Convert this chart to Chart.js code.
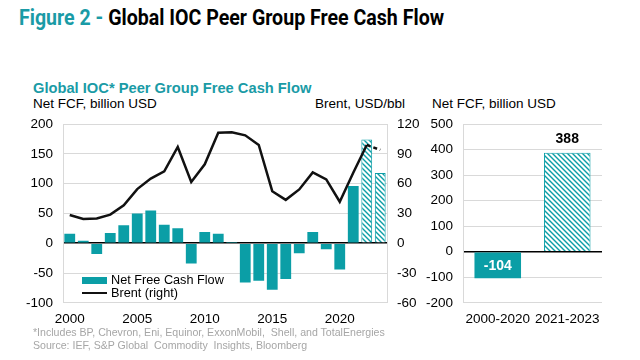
<!DOCTYPE html>
<html>
<head>
<meta charset="utf-8">
<script src="https://cdn.jsdelivr.net/npm/chart.js@4/dist/chart.umd.min.js"></script>
<style>
    body { margin: 0; width: 640px; height: 360px; background: #fff; position: relative; overflow: hidden; font-family: "Liberation Sans", Arial, sans-serif; }
    .abs { position: absolute; white-space: nowrap; }
    #title { left: 19px; top: 5px; font-family: Roboto, sans-serif; font-weight: bold; font-size: 22px; color: #000; transform: scaleX(0.89); transform-origin: left top; }
    #title span { color: #1a9ba6; }
    #sub { left: 33px; top: 80px; font-weight: bold; font-size: 14.7px; color: #1a9ba6; }
    .unit { font-size: 13.5px; color: #000; }
    .legend { font-size: 12.7px; color: #000; }
    .foot { left: 33px; font-size: 10.6px; color: #a6a6a6; }
    #left_wrap { position: absolute; left: 0; top: 106px; width: 430px; height: 229px; }
    #right_wrap { position: absolute; left: 420px; top: 106px; width: 220px; height: 229px; }
</style>
</head>
<body>
<div id="title" class="abs"><span>Figure 2 - </span>Global IOC Peer Group Free Cash Flow</div>
<div id="sub" class="abs">Global IOC* Peer Group Free Cash Flow</div>
<div class="abs unit" style="left:33px; top:96px;">Net FCF, billion USD</div>
<div class="abs unit" style="left:315px; top:96px;">Brent, USD/bbl</div>
<div class="abs unit" style="left:432px; top:96px;">Net FCF, billion USD</div>

<div id="left_wrap"><canvas id="fcf_years"></canvas></div>
<div id="right_wrap"><canvas id="fcf_totals"></canvas></div>

<div class="abs" style="left:82px; top:277px; width:25px; height:7px; background:#0b9ea6;"></div>
<div class="abs legend" style="left:111px; top:273px;">Net Free Cash Flow</div>
<div class="abs" style="left:82px; top:292px; width:25px; height:2px; background:#111;"></div>
<div class="abs legend" style="left:111px; top:286px;">Brent (right)</div>

<div class="abs foot" style="top:326px;">*Includes BP, Chevron, Eni, Equinor, ExxonMobil,&nbsp; Shell, and TotalEnergies</div>
<div class="abs foot" style="top:339px;">Source: IEF, S&amp;P Global&nbsp; Commodity&nbsp; Insights, Bloomberg</div>

<script>
const years = ['2000', '2001', '2002', '2003', '2004', '2005', '2006', '2007', '2008', '2009', '2010', '2011',
    '2012', '2013', '2014', '2015', '2016', '2017', '2018', '2019', '2020', '2021', '2022', '2023'];
const netFcf = [16, 4, -18, 17, 30, 50, 55, 31, 25, -34, 19, 16, 2, -66, -63, -78, -60, -17, 19, -10, -44, 96, 174, 118];
const brent = [28.5, 24.4, 25.0, 28.8, 38.3, 54.5, 65.1, 72.4, 97.0, 61.7, 79.5, 111.3, 111.7, 108.7, 99.0,
    52.4, 43.7, 54.2, 71.3, 64.3, 41.8, 70.9, 99.0, 94.0];
const periods = ['2000-2020', '2021-2023'];
const periodTotals = [-104, 388];

const teal = '#0b9ea6';
const gridGray = '#d9d9d9';
const tickFont = { family: '"Liberation Sans", Arial, sans-serif', size: 13.5 };

function makeHatch() {
    const c = document.createElement('canvas');
    c.width = 5;
    c.height = 5;
    const g = c.getContext('2d');
    g.fillStyle = '#fff';
    g.fillRect(0, 0, 5, 5);
    g.strokeStyle = teal;
    g.lineWidth = 1.4;
    g.beginPath();
    g.moveTo(-1, -1); g.lineTo(6, 6);
    g.moveTo(-1, 4); g.lineTo(1, 6);
    g.moveTo(4, -1); g.lineTo(6, 1);
    g.stroke();
    return g.createPattern(c, 'repeat');
}
const hatch = makeHatch();

// zero line is black, the rest light gray
const zeroLine = ctx => ctx.tick.value === 0 ? '#000' : gridGray;
const zeroWidth = ctx => ctx.tick.value === 0 ? 1.5 : 1;

const barColors = years.map((y, i) => i >= 22 ? hatch : teal);
const barBorders = years.map((y, i) => i >= 22 ? 1 : 0);

const totalLabels = {
    id: 'totalLabels',
    afterDatasetsDraw(chart) {
        const g = chart.ctx;
        const meta = chart.getDatasetMeta(0);
        g.save();
        g.font = 'bold 14px "Liberation Sans", Arial, sans-serif';
        g.textAlign = 'center';
        g.textBaseline = 'middle';
        meta.data.forEach((bar, i) => {
            const v = periodTotals[i];
            if (v < 0) {
                g.fillStyle = '#fff';
                g.fillText(String(v), bar.x, bar.base + 14);
            } else {
                g.fillStyle = '#000';
                g.fillText(String(v), bar.x, bar.y - 14);
            }
        });
        g.restore();
    },
};

function createLeft() {
    const ctx = document.getElementById('fcf_years').getContext('2d');
    window.chartLeft = new Chart(ctx, {
        data: {
            labels: years,
            datasets: [
                {
                    type: 'line',
                    label: 'Brent (right)',
                    data: brent,
                    yAxisID: 'y1',
                    borderColor: '#111',
                    borderWidth: 2.5,
                    pointRadius: 0,
                    tension: 0,
                    order: 0,
                    segment: {
                        borderDash: c => c.p1DataIndex === 23 ? [4, 3] : undefined,
                    },
                },
                {
                    type: 'bar',
                    label: 'Net Free Cash Flow',
                    data: netFcf,
                    yAxisID: 'y',
                    backgroundColor: barColors,
                    borderColor: teal,
                    borderWidth: barBorders,
                    categoryPercentage: 1,
                    barPercentage: 0.8,
                    order: 1,
                },
            ],
        },
        options: {
            responsive: true,
            maintainAspectRatio: false,
            animation: false,
            layout: { padding: 0 },
            plugins: { legend: { display: false }, tooltip: { enabled: false } },
            scales: {
                x: {
                    grid: { display: false, drawTicks: false },
                    border: { display: false },
                    ticks: {
                        font: tickFont,
                        color: '#000',
                        maxRotation: 0,
                        autoSkip: false,
                        padding: 8,
                        callback: (v, i) => i % 5 === 0 ? years[i] : '',
                    },
                },
                y: {
                    min: -100,
                    max: 200,
                    afterFit: s => { s.width = 63; },
                    ticks: { stepSize: 50, font: tickFont, color: '#000', padding: 10 },
                    grid: { color: zeroLine, lineWidth: zeroWidth, drawTicks: false },
                    border: { color: gridGray },
                },
                y1: {
                    position: 'right',
                    min: -60,
                    max: 120,
                    afterFit: s => { s.width = 43; },
                    ticks: { stepSize: 30, font: tickFont, color: '#000', padding: 10 },
                    grid: { display: false, drawTicks: false },
                    border: { color: gridGray },
                },
            },
        },
    });
}

function createRight() {
    const ctx = document.getElementById('fcf_totals').getContext('2d');
    window.chartRight = new Chart(ctx, {
        type: 'bar',
        data: {
            labels: periods,
            datasets: [{
                label: 'Net FCF',
                data: periodTotals,
                backgroundColor: [teal, hatch],
                borderColor: teal,
                borderWidth: [0, 1],
                categoryPercentage: 1,
                barPercentage: 0.67,
            }],
        },
        options: {
            responsive: true,
            maintainAspectRatio: false,
            animation: false,
            layout: { padding: { top: 0, left: 0, right: 38, bottom: 0 } },
            plugins: { legend: { display: false }, tooltip: { enabled: false } },
            scales: {
                x: {
                    grid: { display: false, drawTicks: false },
                    border: { display: false },
                    ticks: { font: tickFont, color: '#000', maxRotation: 0, padding: 8 },
                },
                y: {
                    min: -200,
                    max: 500,
                    afterFit: s => { s.width = 43; },
                    ticks: { stepSize: 100, font: tickFont, color: '#000', padding: 10 },
                    grid: { color: zeroLine, lineWidth: zeroWidth, drawTicks: false },
                    border: { color: gridGray },
                },
            },
        },
        plugins: [totalLabels],
    });
}

createLeft();
createRight();
</script>
</body>
</html>
